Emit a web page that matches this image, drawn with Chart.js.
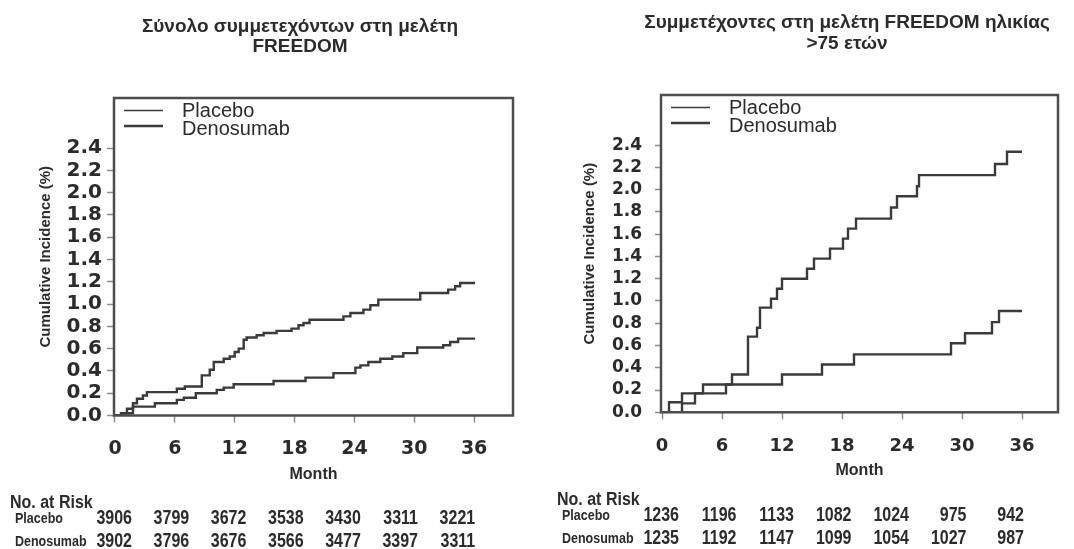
<!DOCTYPE html>
<html lang="el">
<head>
<meta charset="UTF-8">
<title>FREEDOM - Cumulative Incidence</title>
<script src="https://cdn.jsdelivr.net/npm/chart.js"></script>
<style>
  body { margin: 0; background: #fff; width: 1074px; height: 549px; overflow: hidden; position: relative; }
  canvas { position: absolute; top: 0; }
  #allChart { left: 0; }
  #oldChart { left: 537px; }
</style>
</head>
<body>
<canvas id="allChart" width="537" height="549"></canvas>
<canvas id="oldChart" width="537" height="549"></canvas>
<script>
// axis ticks
const monthTicks = [0, 6, 12, 18, 24, 30, 36];
const pctTicks = [0.0, 0.2, 0.4, 0.6, 0.8, 1.0, 1.2, 1.4, 1.6, 1.8, 2.0, 2.2, 2.4];

// all FREEDOM participants: month of each step and cumulative incidence (%) after it
const placeboAllMonths = [0, 0.7, 1.2, 1.8, 2.2, 2.8, 3.2, 6.2, 7.0, 8.7, 9.5, 9.9, 10.9, 11.5, 12.0, 12.4, 12.9, 13.2,
  14.2, 14.9, 16.2, 17.7, 18.4, 18.9, 19.5, 22.9, 23.6, 24.9, 25.6, 26.4, 30.6, 33.4, 34.1, 34.6, 36.1];
const placeboAllPct = [0, 0.02, 0.06, 0.11, 0.15, 0.18, 0.21, 0.24, 0.26, 0.36, 0.41, 0.48, 0.51, 0.53, 0.57, 0.60, 0.68, 0.70,
  0.72, 0.74, 0.76, 0.78, 0.81, 0.83, 0.86, 0.89, 0.92, 0.95, 0.99, 1.04, 1.10, 1.13, 1.16, 1.19, 1.19];
const denoAllMonths = [0, 0.6, 1.8, 4.0, 6.2, 6.9, 8.1, 10.2, 10.9, 11.9, 15.9, 19.1, 21.9, 24.1, 24.6, 25.4, 26.6, 27.8,
  28.9, 30.3, 32.9, 33.6, 34.4, 36.1];
const denoAllPct = [0, 0.02, 0.08, 0.11, 0.14, 0.16, 0.20, 0.23, 0.25, 0.28, 0.31, 0.34, 0.38, 0.43, 0.45, 0.48, 0.51, 0.53,
  0.56, 0.61, 0.63, 0.66, 0.69, 0.69];

// participants aged >75
const placeboOldMonths = [0, 2.0, 3.3, 6.4, 7.0, 8.6, 9.5, 9.8, 10.9, 11.5, 12.0, 14.5, 15.2, 16.8, 18.1, 18.6, 19.4, 22.9,
  23.5, 25.5, 25.7, 33.3, 34.5, 36.0];
const placeboOldPct = [0, 0.08, 0.17, 0.25, 0.34, 0.68, 0.76, 0.94, 1.02, 1.11, 1.20, 1.29, 1.38, 1.47, 1.56, 1.65, 1.74, 1.84,
  1.94, 2.03, 2.13, 2.23, 2.34, 2.34];
const denoOldMonths = [0, 0.7, 2.0, 4.1, 12.0, 16.0, 19.2, 28.9, 30.3, 33.0, 33.7, 36.0];
const denoOldPct = [0, 0.09, 0.17, 0.25, 0.34, 0.43, 0.52, 0.62, 0.71, 0.81, 0.91, 0.91];

// numbers at risk at 0, 6, ... 36 months
const riskPlaceboAll = [3906, 3799, 3672, 3538, 3430, 3311, 3221];
const riskDenoAll = [3902, 3796, 3676, 3566, 3477, 3397, 3311];
const riskPlaceboOld = [1236, 1196, 1133, 1082, 1024, 975, 942];
const riskDenoOld = [1235, 1192, 1147, 1099, 1054, 1027, 987];

const FONT = '"Liberation Sans", Arial, sans-serif';
const TICKFONT = '"DejaVu Sans", sans-serif';
const INK = '#2b2b2b';
const LINE = '#3a3a3a';
Chart.defaults.font.family = FONT;

function steps(months, pct) {
  return months.map((m, i) => ({ x: m, y: pct[i] }));
}

// bold text squeezed/stretched vertically, like the scanned table
function stretchText(ctx, text, x, y, size, sy, align) {
  ctx.save();
  ctx.translate(x, y);
  ctx.scale(1, sy);
  ctx.font = 'bold ' + size + 'px ' + FONT;
  ctx.textAlign = align;
  ctx.textBaseline = 'middle';
  ctx.fillText(text, 0, 0);
  ctx.restore();
}

// frame, title, inside legend and the "No. at Risk" table
const decor = {
  id: 'decor',
  afterDraw(chart, args, o) {
    const { ctx, chartArea: a } = chart;
    ctx.save();
    ctx.strokeStyle = '#4d4d4d';
    ctx.lineWidth = 2.5;
    ctx.strokeRect(a.left, a.top, a.right - a.left, a.bottom - a.top);

    ctx.fillStyle = INK;
    ctx.font = 'bold 19px ' + FONT;
    ctx.textAlign = 'center';
    ctx.textBaseline = 'middle';
    o.title.forEach((t, i) => ctx.fillText(t, o.titleX, o.titleY[i]));

    chart.data.datasets.forEach((ds, i) => {
      const ly = a.top + 12.5 + i * 15.5;
      ctx.strokeStyle = ds.borderColor;
      ctx.lineWidth = i === 0 ? 1.4 : 2.4;
      ctx.beginPath();
      ctx.moveTo(a.left + 10, ly);
      ctx.lineTo(a.left + 49, ly);
      ctx.stroke();
      ctx.font = '20px ' + FONT;
      ctx.textAlign = 'left';
      ctx.fillText(ds.label, a.left + 68, a.top + 13.5 + i * 17.5);
    });

    stretchText(ctx, 'No. at Risk', o.headX, o.headY, 16, 1.15, 'left');
    o.rows.forEach((vals, r) => {
      const y = o.rowY[r];
      stretchText(ctx, chart.data.datasets[r].label, o.headX + 5, y, 12.5, 1.2, 'left');
      vals.forEach((v, j) => stretchText(ctx, String(v), o.colX + j * o.colStep, y, 16, 1.25, 'right'));
    });
    ctx.restore();
  }
};

function kmChart(id, placebo, deno, opt) {
  return new Chart(document.getElementById(id), {
    type: 'line',
    data: {
      datasets: [
        { label: 'Placebo', data: placebo, borderColor: LINE, borderWidth: 2.4, stepped: 'before', pointRadius: 0 },
        { label: 'Denosumab', data: deno, borderColor: LINE, borderWidth: 2.4, stepped: 'before', pointRadius: 0 }
      ]
    },
    options: {
      responsive: false,
      animation: false,
      events: [],
      layout: { padding: opt.pad },
      plugins: { legend: { display: false }, tooltip: { enabled: false }, decor: opt.decor },
      scales: {
        x: {
          type: 'linear', min: -0.1, max: opt.xMax,
          afterFit: s => { s.height = opt.xH; },
          afterBuildTicks: s => { s.ticks = monthTicks.map(v => ({ value: v })); },
          border: { display: false },
          grid: { drawOnChartArea: false, tickLength: 7, tickColor: '#8c8c8c', tickWidth: 1.5 },
          ticks: { color: INK, padding: opt.xPad, autoSkip: false, maxRotation: 0,
                   font: { family: TICKFONT, size: opt.xFont, weight: 'bold' } },
          title: { display: true, text: 'Month', color: INK, font: { size: 16, weight: 'bold', lineHeight: 1.2 },
                   padding: { top: 0, bottom: opt.monthPad } }
        },
        y: {
          min: 0, max: 2.85,
          afterFit: s => { s.width = opt.yW; },
          afterBuildTicks: s => { s.ticks = pctTicks.map(v => ({ value: v })); },
          border: { display: false },
          grid: { drawOnChartArea: false, tickLength: opt.yTick, tickColor: '#8c8c8c', tickWidth: 1.5 },
          ticks: { color: INK, padding: opt.yPad, autoSkip: false,
                   font: { family: TICKFONT, size: opt.yFont, weight: 'bold', lineHeight: 1 },
                   callback: v => v.toFixed(1) },
          title: { display: true, text: 'Cumulative Incidence (%)', color: INK,
                   font: { size: 15, weight: 'bold', lineHeight: 1.2 }, padding: { top: opt.yTitlePad, bottom: 0 } }
        }
      }
    },
    plugins: [decor]
  });
}

kmChart('allChart', steps(placeboAllMonths, placeboAllPct), steps(denoAllMonths, denoAllPct), {
  pad: { left: 0, right: 24, top: 98, bottom: 63.5 },
  xMax: 39.9, xH: 70, xPad: 15, xFont: 19, monthPad: 1,
  yW: 114, yTick: 7, yPad: 5, yFont: 20, yTitlePad: 37,
  decor: {
    title: ['Σύνολο συμμετεχόντων στη μελέτη', 'FREEDOM'], titleX: 300, titleY: [27, 47],
    headX: 10, headY: 503, rowY: [518.5, 541.5], colX: 132, colStep: 57.2,
    rows: [riskPlaceboAll, riskDenoAll]
  }
});

kmChart('oldChart', steps(placeboOldMonths, placeboOldPct), steps(denoOldMonths, denoOldPct), {
  pad: { left: 0, right: 16, top: 95, bottom: 68.7 },
  xMax: 39.6, xH: 68, xPad: 16, xFont: 18, monthPad: 0,
  yW: 124, yTick: 6, yPad: 13, yFont: 17, yTitlePad: 44,
  decor: {
    title: ['Συμμετέχοντες στη μελέτη FREEDOM ηλικίας', '>75 ετών'], titleX: 310, titleY: [23, 44],
    headX: 20, headY: 500, rowY: [515.5, 538.5], colX: 142, colStep: 57.5,
    rows: [riskPlaceboOld, riskDenoOld]
  }
});
</script>
</body>
</html>
